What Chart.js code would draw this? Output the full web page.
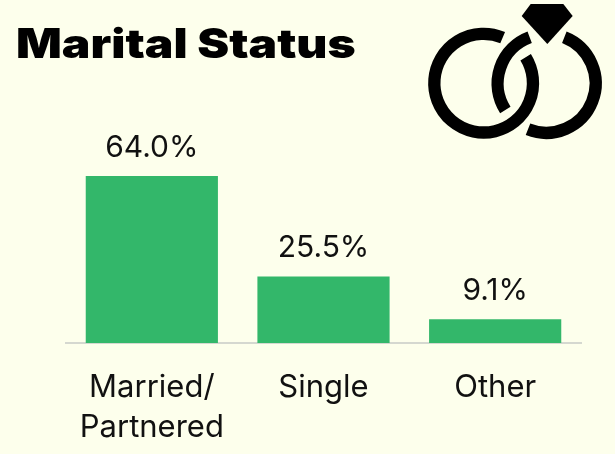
<!DOCTYPE html>
<html>
<head>
<meta charset="utf-8">
<script src="https://cdn.jsdelivr.net/npm/chart.js@4"></script>
<style>
html, body { margin: 0; padding: 0; background: #fdffec; }
#wrap { position: relative; width: 615px; height: 454px; overflow: hidden; }
canvas { position: absolute; left: 0; top: 0; }
h1 { position: absolute; left: 16px; top: 18px; margin: 0; font: 900 41px "Inter", sans-serif; color: #000; white-space: nowrap; transform: scaleX(1.17); transform-origin: left top; }
svg { position: absolute; left: 415px; top: 0; }
</style>
</head>
<body>
<div id="wrap">
<canvas id="chart" width="615" height="454"></canvas>
<h1>Marital Status</h1>
<svg width="200" height="150" viewBox="0 0 600 450" fill="none" stroke="#000" stroke-width="37">
<path d="M263 113 A148 148 0 1 0 332 172"/>
<path d="M344 112 A148 148 0 0 0 271 330"/>
<path d="M448 112 A148 148 0 1 1 339 388"/>
<path d="M347 12 L445 12 L473 48 L397 132 L320 48 Z" fill="#000" stroke="none"/>
</svg>
</div>
<script>
const categories = [['Married/', 'Partnered'], 'Single', 'Other'];
const values = [64.0, 25.5, 9.1];

const valueLabels = {
    id: 'valueLabels',
    afterDatasetsDraw(chart) {
        const {ctx} = chart;
        ctx.save();
        ctx.font = '30px "Inter", sans-serif';
        ctx.fillStyle = '#111';
        ctx.textAlign = 'center';
        chart.getDatasetMeta(0).data.forEach((bar, i) => {
            ctx.fillText(values[i].toFixed(1) + '%', bar.x, bar.y - 19);
        });
        ctx.restore();
    }
};

new Chart(document.getElementById('chart'), {
    type: 'bar',
    data: {
        labels: categories,
        datasets: [{
            data: values,
            backgroundColor: '#33b76a',
            categoryPercentage: 0.77,
            barPercentage: 1
        }]
    },
    options: {
        responsive: false,
        animation: false,
        layout: {padding: {left: 66, right: 34, top: 176, bottom: 0}},
        plugins: {legend: {display: false}, tooltip: {enabled: false}},
        scales: {
            x: {
                grid: {display: false, drawTicks: false},
                border: {color: '#d5d8d0', width: 2},
                ticks: {color: '#111', font: {family: 'Inter', size: 31, lineHeight: 1.29}, padding: 25, maxRotation: 0, autoSkip: false},
                afterFit(scale) { scale.height = 111; }
            },
            y: {display: false, min: 0, max: 64}
        }
    },
    plugins: [valueLabels]
});
</script>
</body>
</html>
